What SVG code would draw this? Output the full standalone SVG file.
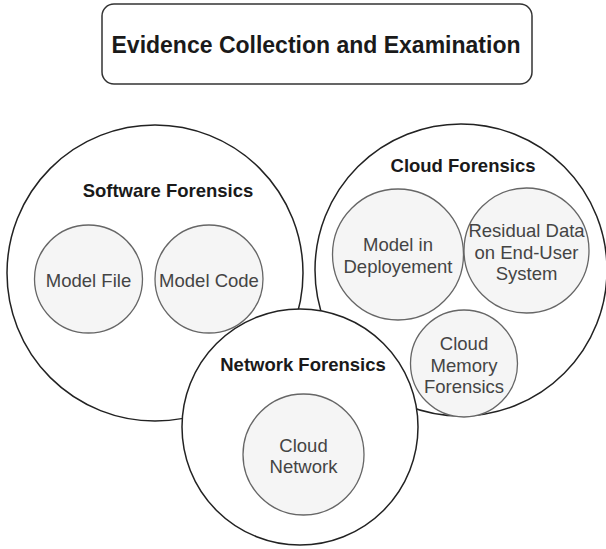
<svg xmlns="http://www.w3.org/2000/svg" width="606" height="549" viewBox="0 0 606 549">
<style>
.outer{fill:#fff;stroke:#222;stroke-width:1.5}
.inner{fill:#f5f5f5;stroke:#666;stroke-width:1.3}
.hd{font-family:"Liberation Sans",Arial,sans-serif;font-weight:bold;font-size:18.5px;fill:#1a1a1a;text-anchor:middle}
.lb{font-family:"Liberation Sans",Arial,sans-serif;font-size:18.5px;fill:#444;text-anchor:middle}
</style>
<rect width="606" height="549" fill="#fff"/>
<g id="title">
<rect x="102" y="4" width="430" height="80" rx="12" fill="#fff" stroke="#333" stroke-width="1.5"/>
<text x="316" y="53" class="hd" style="font-size:23px">Evidence Collection and Examination</text>
</g>
<g id="software">
<circle cx="155" cy="273" r="148" class="outer"/>
<text x="168" y="197" class="hd">Software Forensics</text>
</g>
<g id="modelfile">
<circle cx="88.5" cy="279" r="54" class="inner"/>
<text x="88.5" y="287" class="lb">Model File</text>
</g>
<g id="modelcode">
<circle cx="209" cy="279" r="54" class="inner"/>
<text x="209" y="287" class="lb">Model Code</text>
</g>
<g id="cloud">
<circle cx="461" cy="270" r="146" class="outer"/>
<text x="463" y="172" class="hd">Cloud Forensics</text>
</g>
<g id="deploy">
<circle cx="398" cy="254.5" r="65.5" class="inner"/>
<text x="398" y="251" class="lb">Model in</text>
<text x="398" y="273" class="lb">Deployement</text>
</g>
<g id="residual">
<circle cx="526.5" cy="250.5" r="62.5" class="inner"/>
<text x="526.5" y="237" class="lb">Residual Data</text>
<text x="526.5" y="259" class="lb">on End-User</text>
<text x="526.5" y="280" class="lb">System</text>
</g>
<g id="memory">
<circle cx="464" cy="363.5" r="53.5" class="inner"/>
<text x="464" y="350" class="lb">Cloud</text>
<text x="464" y="372" class="lb">Memory</text>
<text x="464" y="393" class="lb">Forensics</text>
</g>
<g id="network">
<circle cx="300" cy="427" r="118" class="outer"/>
<text x="303" y="371" class="hd">Network Forensics</text>
</g>
<g id="cloudnetwork">
<circle cx="303.5" cy="454.5" r="60.5" class="inner"/>
<text x="303.5" y="452" class="lb">Cloud</text>
<text x="303.5" y="473" class="lb">Network</text>
</g>
<g id="connectors"></g>
</svg>
